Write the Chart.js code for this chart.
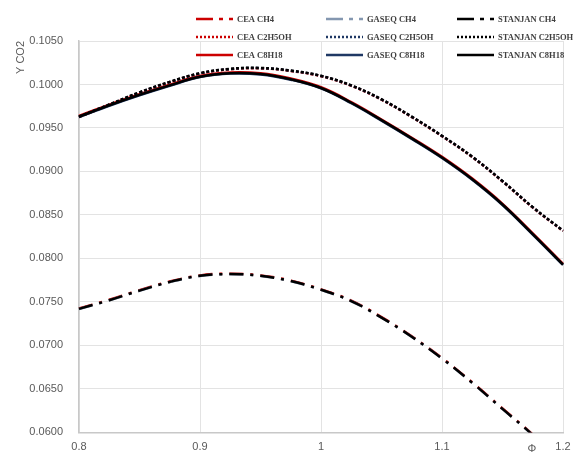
<!DOCTYPE html>
<html>
<head>
<meta charset="utf-8">
<script src="https://cdn.jsdelivr.net/npm/chart.js@4.4.1/dist/chart.umd.min.js"></script>
<style>
  html, body { margin: 0; padding: 0; background: #fff; }
  #wrap { width: 580px; height: 455px; }
</style>
</head>
<body>
<div id="wrap"><canvas id="chart" width="580" height="455"></canvas></div>
<script>
// equivalence ratio (x axis)
const PHI = [0.8, 0.825, 0.85, 0.875, 0.9, 0.925, 0.95, 0.975, 1.0, 1.025, 1.05, 1.075, 1.1, 1.125, 1.15, 1.175, 1.2];
const X_TICKS = ['0.8', '0.9', '1', '1.1', '1.2'];

// CO2 mole fraction
const CEA_CH4 = [0.07425, 0.07525, 0.07635, 0.07735, 0.07805, 0.07825, 0.07805, 0.07745, 0.07645, 0.07515, 0.07325, 0.07105, 0.06855, 0.06575, 0.06275, 0.05975, 0.05635];
const GASEQ_CH4 = [0.07418, 0.07518, 0.07628, 0.07728, 0.07798, 0.07818, 0.07798, 0.07738, 0.07638, 0.07508, 0.07318, 0.07098, 0.06848, 0.06568, 0.06268, 0.05968, 0.05628];
const STANJAN_CH4 = [0.0742, 0.0752, 0.0763, 0.0773, 0.0780, 0.0782, 0.0780, 0.0774, 0.0764, 0.0751, 0.0732, 0.0710, 0.0685, 0.0657, 0.0627, 0.0597, 0.0563];

const CEA_C2H5OH = [0.09625, 0.09765, 0.09905, 0.10025, 0.10125, 0.10175, 0.10185, 0.10155, 0.10095, 0.09985, 0.09825, 0.09625, 0.09405, 0.09165, 0.08885, 0.08585, 0.08315];
const GASEQ_C2H5OH = [0.09628, 0.09768, 0.09908, 0.10028, 0.10128, 0.10178, 0.10188, 0.10158, 0.10098, 0.09988, 0.09828, 0.09628, 0.09408, 0.09168, 0.08888, 0.08588, 0.08318];
const STANJAN_C2H5OH = [0.0963, 0.0977, 0.0991, 0.1003, 0.1013, 0.1018, 0.1019, 0.1016, 0.1010, 0.0999, 0.0983, 0.0963, 0.0941, 0.0917, 0.0889, 0.0859, 0.0832];

const CEA_C8H18 = [0.09638, 0.09768, 0.09888, 0.09998, 0.10098, 0.10138, 0.10128, 0.10068, 0.09968, 0.09798, 0.09598, 0.09388, 0.09168, 0.08918, 0.08628, 0.08288, 0.07938];
const GASEQ_C8H18 = [0.09625, 0.09755, 0.09875, 0.09985, 0.10085, 0.10125, 0.10115, 0.10055, 0.09955, 0.09785, 0.09585, 0.09375, 0.09155, 0.08905, 0.08615, 0.08275, 0.07925];
const STANJAN_C8H18 = [0.0963, 0.0976, 0.0988, 0.0999, 0.1009, 0.1013, 0.1012, 0.1006, 0.0996, 0.0979, 0.0959, 0.0938, 0.0916, 0.0891, 0.0862, 0.0828, 0.0793];

const RED = '#cc0000';
const NAVY = '#1f3864';
const GREY_BLUE = '#8497b0';
const BLACK = '#000000';

const DASH_DOT = [14, 7, 3, 7];
const DOTS = [3, 2];

const toPoints = (vals) => vals.map((v, i) => ({ x: PHI[i], y: v }));

const makeSet = (label, vals, color, dash, legendDash, order) => ({
  label,
  data: toPoints(vals),
  borderColor: color,
  backgroundColor: color,
  borderWidth: 2.5,
  borderDash: dash,
  legendDash,
  pointRadius: 0,
  tension: 0.4,
  fill: false,
  order,
  clip: { left: 2, right: 2, top: 2, bottom: 0 }
});

const datasets = [
  makeSet('CEA CH4', CEA_CH4, RED, DASH_DOT, [17, 6, 4, 6, 4], 3),
  makeSet('GASEQ CH4', GASEQ_CH4, GREY_BLUE, DASH_DOT, [17, 6, 4, 6, 4], 2),
  makeSet('STANJAN CH4', STANJAN_CH4, BLACK, DASH_DOT, [17, 6, 4, 6, 4], 1),
  makeSet('CEA C2H5OH', CEA_C2H5OH, RED, DOTS, [2, 2], 3),
  makeSet('GASEQ C2H5OH', GASEQ_C2H5OH, NAVY, DOTS, [2, 2], 2),
  makeSet('STANJAN C2H5OH', STANJAN_C2H5OH, BLACK, DOTS, [2, 2], 1),
  makeSet('CEA C8H18', CEA_C8H18, RED, [], [], 3),
  makeSet('GASEQ C8H18', GASEQ_C8H18, NAVY, [], [], 2),
  makeSet('STANJAN C8H18', STANJAN_C8H18, BLACK, [], [], 1)
];

// 3 x 3 legend sitting over the top of the plot, Excel style
const gridLegend = {
  id: 'gridLegend',
  afterDraw(chart) {
    const ctx = chart.ctx;
    const colX = [196, 326, 457];
    ctx.save();
    ctx.font = 'bold 8.5px "Liberation Serif", serif';
    ctx.textBaseline = 'middle';
    ctx.textAlign = 'left';
    chart.data.datasets.forEach((ds, i) => {
      const x = colX[i % 3];
      const y = 19 + Math.floor(i / 3) * 18;
      ctx.strokeStyle = ds.borderColor;
      ctx.lineWidth = 2.5;
      ctx.setLineDash(ds.legendDash);
      ctx.beginPath();
      ctx.moveTo(x, y);
      ctx.lineTo(x + 37, y);
      ctx.stroke();
      ctx.setLineDash([]);
      ctx.fillStyle = '#404040';
      ctx.fillText(ds.label, x + 41, y + 0.5);
    });
    // phi symbol next to the last x tick
    const area = chart.chartArea;
    ctx.font = '11px "Liberation Sans", Arial, sans-serif';
    ctx.fillStyle = '#595959';
    ctx.textAlign = 'center';
    ctx.fillText('\u03A6', area.right - 31, area.bottom + 17);
    ctx.restore();
  }
};

const tickFont = { family: '"Liberation Sans", Arial, sans-serif', size: 11 };

new Chart(document.getElementById('chart'), {
  type: 'line',
  data: { datasets },
  options: {
    responsive: false,
    animation: false,
    layout: { padding: { top: 41, right: 17, bottom: 0, left: 10 } },
    scales: {
      x: {
        type: 'linear',
        min: 0.8,
        max: 1.2,
        afterFit: (scale) => { scale.height = 22; },
        grid: { color: '#e3e3e3', drawTicks: false },
        border: { color: '#c8c8c8', width: 1.5 },
        ticks: {
          stepSize: 0.1,
          padding: 8,
          color: '#595959',
          font: tickFont,
          callback: (v, i) => X_TICKS[i]
        }
      },
      y: {
        min: 0.06,
        max: 0.105,
        afterFit: (scale) => { scale.width = 69; },
        grid: { color: '#e3e3e3', drawTicks: false },
        border: { color: '#c8c8c8', width: 1.5 },
        ticks: {
          stepSize: 0.005,
          padding: 16,
          color: '#595959',
          font: tickFont,
          callback: (v) => v.toFixed(4)
        },
        title: {
          display: true,
          text: 'Y CO2',
          align: 'end',
          color: '#595959',
          font: tickFont,
          padding: { top: 4, bottom: 4 }
        }
      }
    },
    plugins: {
      legend: { display: false },
      tooltip: { enabled: false }
    }
  },
  plugins: [gridLegend]
});
</script>
</body>
</html>
